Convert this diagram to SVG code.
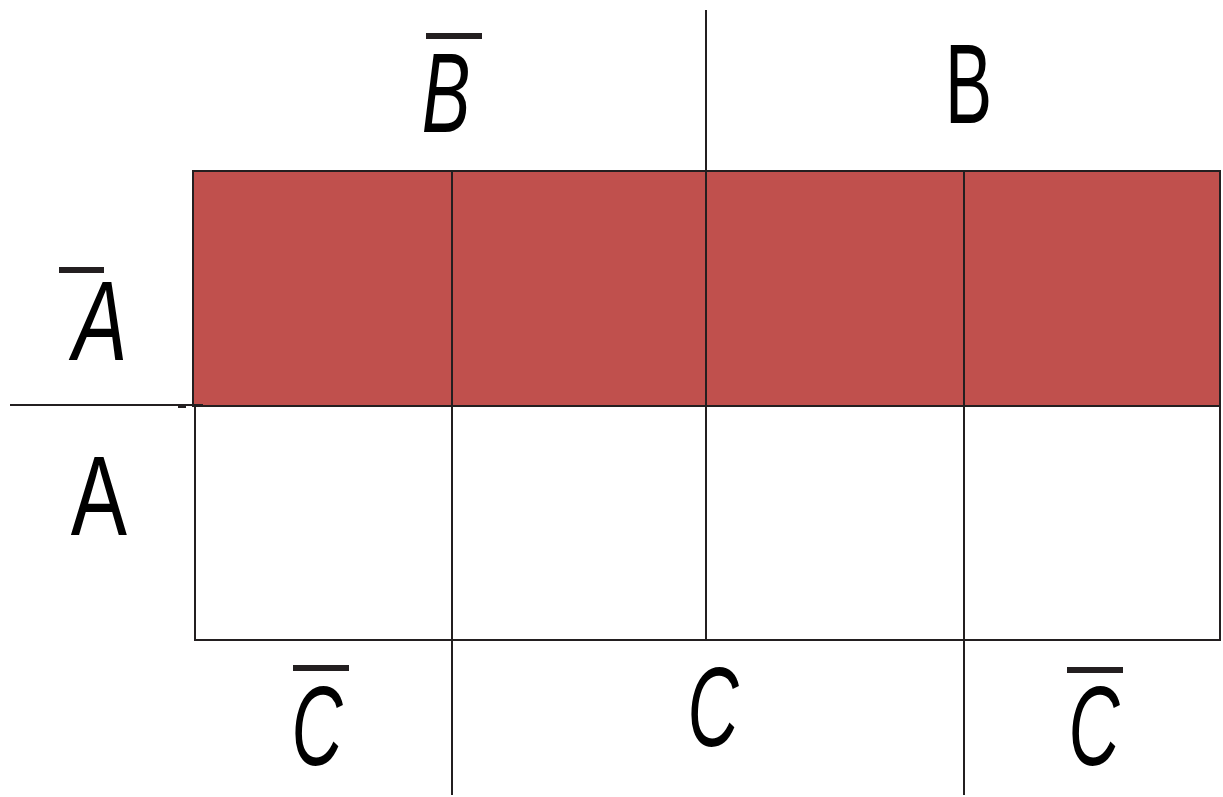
<svg xmlns="http://www.w3.org/2000/svg" width="1223" height="797" viewBox="0 0 1223 797">
<style>
.ln{stroke:#231F20;stroke-width:2;fill:none}
.shade{stroke:#231F20;stroke-width:2;fill:#C0504D}
.lbl{font-family:"Liberation Sans",Arial,sans-serif;font-size:114px;fill:#000;text-anchor:middle}
.it{font-style:italic}
.bar{fill:#231F20}
</style>
<rect width="1223" height="797" fill="#fff"/>
<g id="shaded-row">
<rect x="193" y="171" width="1027" height="235" class="shade"/>
</g>
<g id="grid">
<rect x="195" y="406" width="1025" height="234" class="ln"/>
<line x1="452" y1="171" x2="452" y2="640" class="ln"/>
<line x1="706" y1="171" x2="706" y2="640" class="ln"/>
<line x1="964" y1="171" x2="964" y2="640" class="ln"/>
</g>
<g id="connectors">
<line x1="706" y1="10" x2="706" y2="171" class="ln"/>
<line x1="10" y1="405" x2="203" y2="405" class="ln"/>
<line x1="178" y1="407" x2="186" y2="407" class="ln"/>
<line x1="452" y1="640" x2="452" y2="795" class="ln"/>
<line x1="964" y1="640" x2="964" y2="795" class="ln"/>
</g>
<g id="label-Bbar">
<rect x="426" y="33" width="56" height="6" class="bar"/>
<text class="lbl it" transform="translate(446,132) scale(0.64,1)">B</text>
</g>
<g id="label-B">
<text class="lbl" transform="translate(968.5,123) scale(0.62,1)">B</text>
</g>
<g id="label-Abar">
<rect x="59" y="267" width="45" height="6" class="bar"/>
<text class="lbl it" transform="translate(100,360) scale(0.72,1)">A</text>
</g>
<g id="label-A">
<text class="lbl" transform="translate(99,535) scale(0.74,1)">A</text>
</g>
<g id="label-Cbar-left">
<rect x="293" y="665" width="56" height="6" class="bar"/>
<text class="lbl it" transform="translate(317,765) scale(0.62,1)">C</text>
</g>
<g id="label-C">
<text class="lbl it" transform="translate(713,746) scale(0.62,1)">C</text>
</g>
<g id="label-Cbar-right">
<rect x="1067" y="667" width="56" height="6" class="bar"/>
<text class="lbl it" transform="translate(1094,765) scale(0.62,1)">C</text>
</g>
</svg>
